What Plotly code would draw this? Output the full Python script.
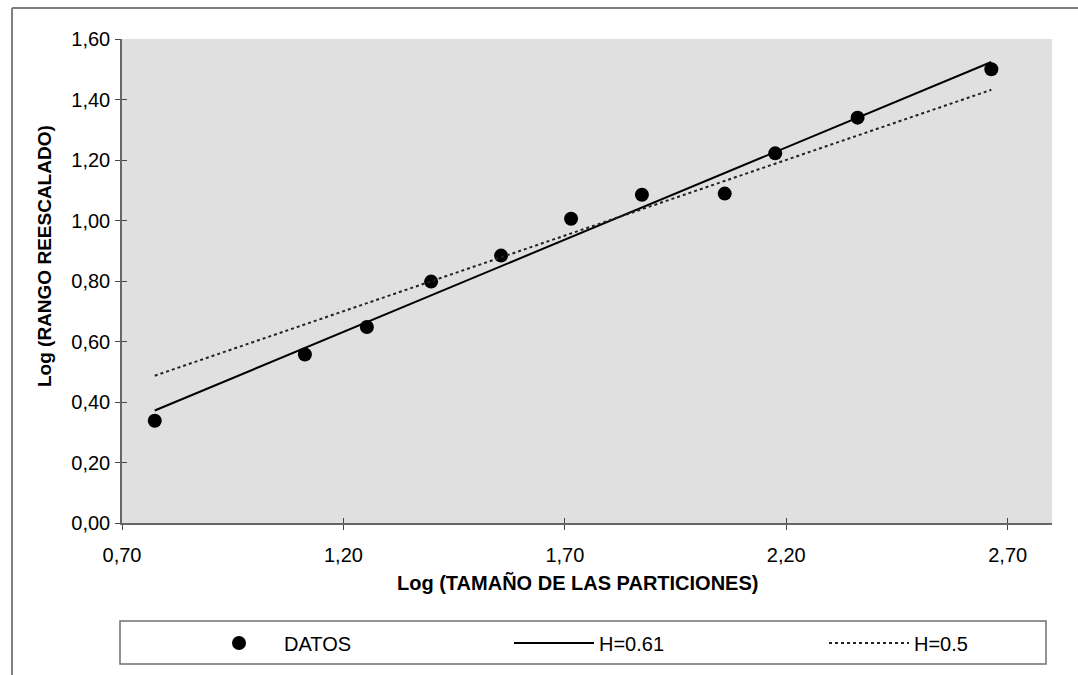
import plotly.graph_objects as go

# ---- data ----
x_log = [0.774, 1.113, 1.253, 1.398, 1.556, 1.714, 1.874, 2.061, 2.175, 2.361, 2.663]
y_datos = [0.338, 0.557, 0.648, 0.798, 0.884, 1.006, 1.085, 1.089, 1.222, 1.340, 1.500]
y_h061 = [0.372, 0.579, 0.664, 0.753, 0.849, 0.946, 1.043, 1.157, 1.227, 1.340, 1.524]
y_h05 = [0.487, 0.657, 0.727, 0.799, 0.878, 0.957, 1.037, 1.131, 1.188, 1.281, 1.432]
x_ticks = [0.70, 1.20, 1.70, 2.20, 2.70]
y_ticks = [0.0, 0.2, 0.4, 0.6, 0.8, 1.0, 1.2, 1.4, 1.6]
names = ["DATOS", "H=0.61", "H=0.5"]
x_title = "Log (TAMAÑO DE LAS PARTICIONES)"
y_title = "Log (RANGO REESCALADO)"

W, H = 1078, 675
L, R, T, B = 122, 1052, 39, 523
FONT = "Arial, Liberation Sans, sans-serif"


def px(xp):
    return (xp - L) / (R - L)


def py(yp):
    return (B - yp) / (B - T)


fig = go.Figure()
fig.add_trace(go.Scatter(x=x_log, y=y_datos, mode="markers", name=names[0], legend="legend",
                         marker=dict(color="black", size=14, symbol="circle")))
fig.add_trace(go.Scatter(x=x_log, y=y_h061, mode="lines", name=names[1], legend="legend2",
                         line=dict(color="black", width=2)))
fig.add_trace(go.Scatter(x=x_log, y=y_h05, mode="lines", name=names[2], legend="legend3",
                         line=dict(color="#222222", width=2, dash="dot")))
# overlay axes for inner half of crossing ticks
fig.add_trace(go.Scatter(x=[None], y=[None], xaxis="x2", yaxis="y2", showlegend=False))

axis_common = dict(showgrid=False, zeroline=False, linecolor="#666666", linewidth=1.5,
                   ticks="outside", ticklen=5, tickcolor="#444444", tickwidth=1,
                   tickfont=dict(family=FONT, size=20, color="black"), tickformat=".2f")


def leg(xpix):
    return dict(orientation="h", x=px(xpix), y=py(643), xanchor="left", yanchor="middle",
                xref="paper", yref="paper", itemwidth=80,
                bgcolor="rgba(0,0,0,0)", borderwidth=0,
                font=dict(family=FONT, size=20, color="black"))


fig.update_layout(
    width=W, height=H,
    margin=dict(l=L, r=W - R, t=T, b=H - B),
    paper_bgcolor="white", plot_bgcolor="#E0E0E0",
    separators=",.",
    font=dict(family=FONT, color="black"),
    hovermode=False,
    xaxis=dict(range=[0.70, 2.80], tickvals=x_ticks, showline=True, mirror=False,
               ticklabelstandoff=8, **axis_common),
    yaxis=dict(range=[0.0, 1.60], tickvals=y_ticks, showline=True, mirror=False,
               ticklabelstandoff=1, **axis_common),
    xaxis2=dict(range=[0.70, 2.80], tickvals=x_ticks, overlaying="x", showticklabels=False,
                ticks="inside", ticklen=5, tickcolor="#444444", showgrid=False, zeroline=False,
                showline=False),
    yaxis2=dict(range=[0.0, 1.60], tickvals=y_ticks, overlaying="y", showticklabels=False,
                ticks="inside", ticklen=5, tickcolor="#444444", showgrid=False, zeroline=False,
                showline=False),
    showlegend=True,
    legend=leg(194),
    legend2=leg(509),
    legend3=leg(824),
    annotations=[
        dict(text="<b>%s</b>" % x_title, x=px(577), y=py(583), xref="paper", yref="paper",
             showarrow=False, xanchor="center", yanchor="middle",
             font=dict(family=FONT, size=20, color="black")),
        dict(text="<b>%s</b>" % y_title, x=px(44), y=py(256), xref="paper", yref="paper",
             showarrow=False, xanchor="center", yanchor="middle", textangle=-90,
             font=dict(family=FONT, size=19, color="black")),
    ],
    shapes=[
        # outer chart border (top and left visible)
        dict(type="line", xref="paper", yref="paper", x0=px(12), x1=px(1080), y0=py(8), y1=py(8),
             line=dict(color="#808080", width=2)),
        dict(type="line", xref="paper", yref="paper", x0=px(12), x1=px(12), y0=py(8), y1=py(680),
             line=dict(color="#808080", width=2)),
        # legend box
        dict(type="rect", xref="paper", yref="paper", x0=px(120), x1=px(1046), y0=py(621), y1=py(664),
             line=dict(color="#707070", width=1.5), fillcolor="rgba(0,0,0,0)"),
    ],
)

fig.write_html("out.html", config={"displayModeBar": False},
               post_script="document.body.style.margin='0';document.body.style.overflow='hidden';")
